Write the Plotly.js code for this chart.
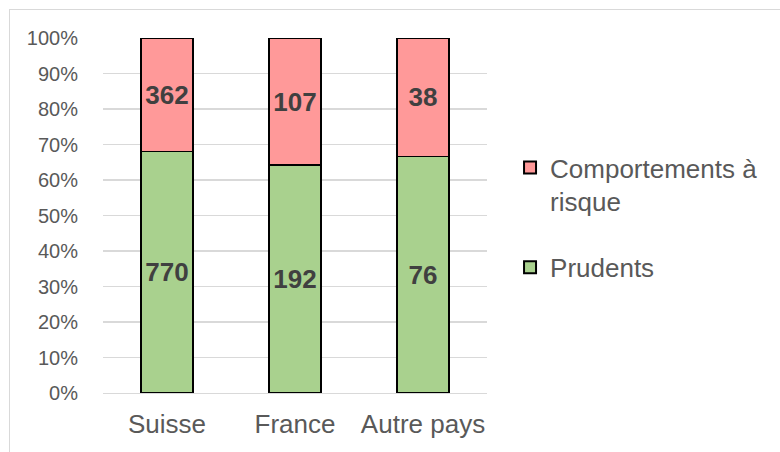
<!DOCTYPE html>
<html>
<head>
<meta charset="utf-8">
<script src="https://cdn.plot.ly/plotly-3.0.1.min.js"></script>
<style>
  html, body { margin: 0; padding: 0; background: #fff; }
  #wrap { position: relative; width: 780px; height: 452px; overflow: hidden; }
  #chart { width: 780px; height: 452px; }
  #frame { position: absolute; left: 9px; top: 9px; width: 820px; height: 500px;
           border: 1px solid #D9D9D9; pointer-events: none; box-sizing: border-box; }
</style>
</head>
<body>
<div id="wrap">
  <div id="chart"></div>
  <div id="frame"></div>
</div>
<script>
const categories = ["Suisse", "France", "Autre pays"];
const prudents = [770, 192, 76];
const risque = [362, 107, 38];
const seriesNames = ["Prudents", "Comportements à<br>risque"];
const yTickVals = [0, 10, 20, 30, 40, 50, 60, 70, 80, 90, 100];
const yTickText = yTickVals.map(v => v + "%");

const font = "Liberation Sans, Arial, sans-serif";
const labelFont = { family: font, size: 26, color: "#404040", weight: "bold" };

const traces = [
  {
    type: "bar", name: seriesNames[0], x: categories, y: prudents,
    text: prudents.map(String), textposition: "inside", insidetextanchor: "middle",
    textangle: 0, constraintext: "none", textfont: labelFont,
    marker: { color: "#A9D18E", line: { color: "#000000", width: 1.5 } },
    legendgroup: "a", legendrank: 2, hoverinfo: "x+y+name"
  },
  {
    type: "bar", name: seriesNames[1], x: categories, y: risque,
    text: risque.map(String), textposition: "inside", insidetextanchor: "middle",
    textangle: 0, constraintext: "none", textfont: labelFont,
    marker: { color: "#FF9999", line: { color: "#000000", width: 1.5 } },
    legendgroup: "b", legendrank: 1, hoverinfo: "x+y+name"
  }
];

const layout = {
  width: 780, height: 452,
  margin: { l: 103, r: 293, t: 38, b: 59, pad: 0 },
  paper_bgcolor: "#ffffff", plot_bgcolor: "#ffffff",
  barmode: "stack", barnorm: "percent", bargap: 0.594,
  font: { family: font, color: "#595959" },
  xaxis: {
    type: "category", tickfont: { family: font, size: 26, color: "#595959" },
    showgrid: false, showline: true, linecolor: "#D9D9D9", linewidth: 1,
    ticks: "outside", ticklen: 8, tickcolor: "rgba(0,0,0,0)", zeroline: false
  },
  yaxis: {
    range: [0, 100], tickvals: yTickVals, ticktext: yTickText,
    tickfont: { family: font, size: 20, color: "#595959" },
    showgrid: true, gridcolor: "#D9D9D9", gridwidth: 1.5, zeroline: false,
    showline: false, ticks: "outside", ticklen: 20, tickcolor: "rgba(0,0,0,0)"
  },
  showlegend: true,
  legend: {
    x: 1.06, xanchor: "left", y: 0.701, yanchor: "top",
    traceorder: "grouped", valign: "top",
    font: { family: font, size: 26, color: "#595959" },
    tracegroupgap: 29, bgcolor: "rgba(0,0,0,0)", itemsizing: "constant"
  }
};

Plotly.newPlot("chart", traces, layout, { displayModeBar: false, staticPlot: true });
</script>
</body>
</html>
